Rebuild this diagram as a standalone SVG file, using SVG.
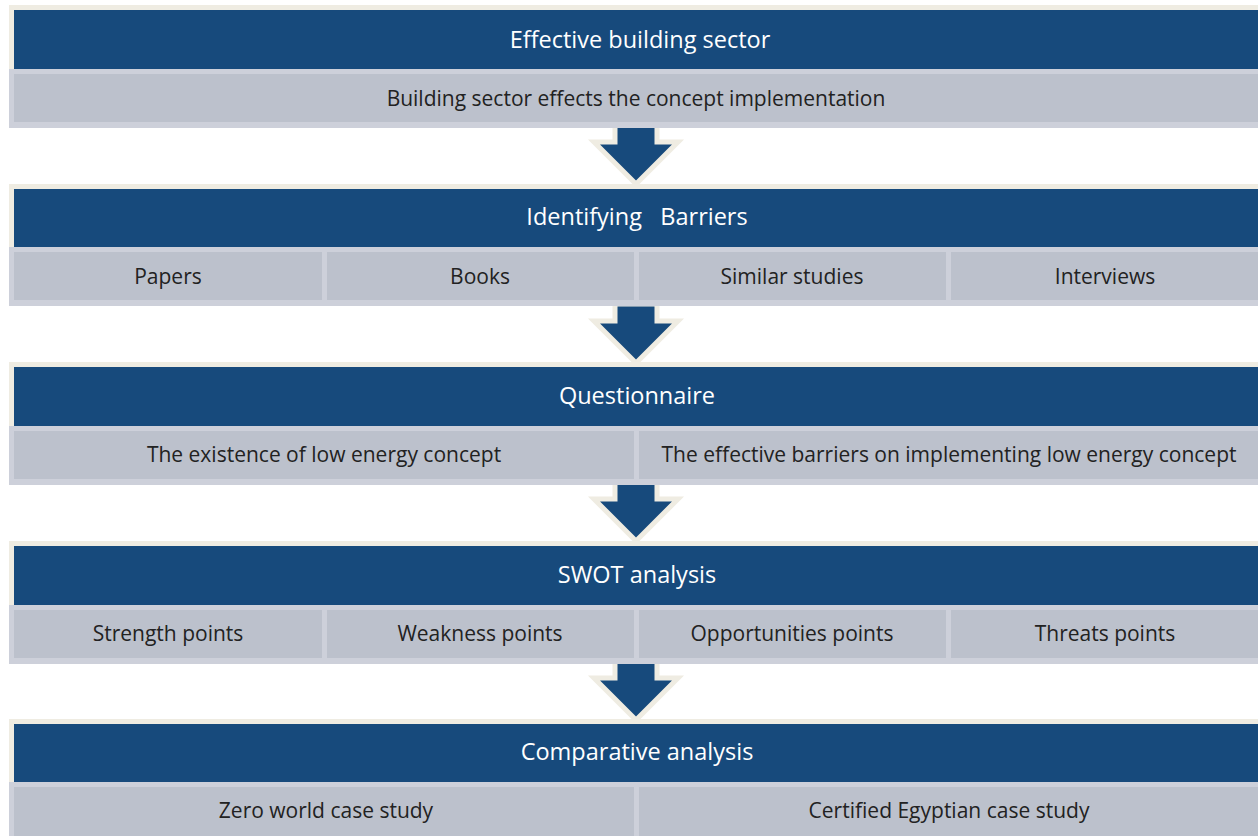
<svg xmlns="http://www.w3.org/2000/svg" width="1258" height="836" viewBox="0 0 1258 836">
<style>
.hdrbg{fill:#efece2}
.hdr{fill:#174a7c}
.rowbg{fill:#cdd0da}
.cell{fill:#bcc1cc}
.arrow{fill:#174a7c;stroke:#efece2;stroke-width:5;stroke-linejoin:miter}
.t{font-family:"Open Sans","Liberation Sans",sans-serif;font-size:23.5px;fill:#ffffff;text-anchor:middle;white-space:pre}
.c{font-family:"Open Sans","Liberation Sans",sans-serif;font-size:21px;fill:#222222;text-anchor:middle}
</style>
<rect width="1258" height="836" fill="#ffffff"/>
<g id="connectors">
<polygon class="arrow" points="615,125 657,125 657,142 678,142 636,184 594,142 615,142"/>
<polygon class="arrow" points="615,304 657,304 657,321 678,321 636,363 594,321 615,321"/>
<polygon class="arrow" points="615,482 657,482 657,499 678,499 636,541 594,499 615,499"/>
<polygon class="arrow" points="615,661 657,661 657,678 678,678 636,720 594,678 615,678"/>
</g>
<g id="node1">
<rect class="hdrbg" x="9" y="5" width="1260" height="66"/>
<rect class="hdr" x="14" y="10" width="1250" height="59"/>
<text class="t" x="640" y="48">Effective building sector</text>
<rect class="rowbg" x="9" y="69" width="1260" height="59"/>
<rect class="cell" x="14" y="74" width="1250" height="48"/>
<text class="c" x="636" y="106">Building sector effects the concept implementation</text>
</g>
<g id="node2">
<rect class="hdrbg" x="9" y="184" width="1260" height="66"/>
<rect class="hdr" x="14" y="189" width="1250" height="59"/>
<text class="t" x="637" y="225" xml:space="preserve">Identifying   Barriers</text>
<rect class="rowbg" x="9" y="247" width="1260" height="59"/>
<rect class="cell" x="14" y="252" width="308" height="48"/>
<rect class="cell" x="327" y="252" width="307" height="48"/>
<rect class="cell" x="639" y="252" width="307" height="48"/>
<rect class="cell" x="951" y="252" width="313" height="48"/>
<text class="c" x="168" y="284">Papers</text>
<text class="c" x="480" y="284">Books</text>
<text class="c" x="792" y="284">Similar studies</text>
<text class="c" x="1105" y="284">Interviews</text>
</g>
<g id="node3">
<rect class="hdrbg" x="9" y="362" width="1260" height="66"/>
<rect class="hdr" x="14" y="367" width="1250" height="59"/>
<text class="t" x="637" y="404">Questionnaire</text>
<rect class="rowbg" x="9" y="426" width="1260" height="59"/>
<rect class="cell" x="14" y="431" width="620" height="48"/>
<rect class="cell" x="639" y="431" width="625" height="48"/>
<text class="c" x="324" y="462">The existence of low energy concept</text>
<text class="c" x="949" y="462">The effective barriers on implementing low energy concept</text>
</g>
<g id="node4">
<rect class="hdrbg" x="9" y="541" width="1260" height="66"/>
<rect class="hdr" x="14" y="546" width="1250" height="59"/>
<text class="t" x="637" y="583">SWOT analysis</text>
<rect class="rowbg" x="9" y="605" width="1260" height="59"/>
<rect class="cell" x="14" y="610" width="308" height="48"/>
<rect class="cell" x="327" y="610" width="307" height="48"/>
<rect class="cell" x="639" y="610" width="307" height="48"/>
<rect class="cell" x="951" y="610" width="313" height="48"/>
<text class="c" x="168" y="641">Strength points</text>
<text class="c" x="480" y="641">Weakness points</text>
<text class="c" x="792" y="641">Opportunities points</text>
<text class="c" x="1105" y="641">Threats points</text>
</g>
<g id="node5">
<rect class="hdrbg" x="9" y="719" width="1260" height="66"/>
<rect class="hdr" x="14" y="724" width="1250" height="59"/>
<text class="t" x="637" y="760">Comparative analysis</text>
<rect class="rowbg" x="9" y="782" width="1260" height="59"/>
<rect class="cell" x="14" y="787" width="620" height="52"/>
<rect class="cell" x="639" y="787" width="625" height="52"/>
<text class="c" x="326" y="818">Zero world case study</text>
<text class="c" x="949" y="818">Certified Egyptian case study</text>
</g>
</svg>
